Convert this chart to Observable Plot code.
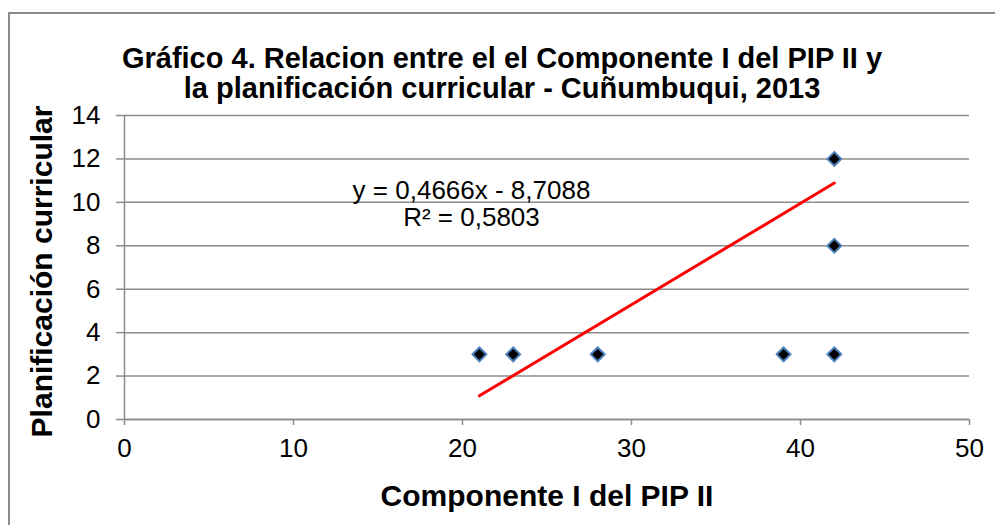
<!DOCTYPE html>
<html><head><meta charset="utf-8">
<script src="https://cdn.jsdelivr.net/npm/d3@7"></script>
<script src="https://cdn.jsdelivr.net/npm/@observablehq/plot@0.6"></script>
<style>
body{margin:0;background:#fff;font-family:Arial,"Liberation Sans",sans-serif;}
#wrap{position:relative;width:995px;height:525px;overflow:hidden;background:#fff;}
#frame{position:absolute;left:8px;top:12px;width:1020px;height:540px;border:2px solid #8a8a8a;box-sizing:border-box;}
#title{position:absolute;left:0;width:1004px;top:43px;text-align:center;font-weight:bold;font-size:29px;line-height:30px;color:#000;white-space:nowrap;}
#chart{position:absolute;left:0;top:100px;}
</style></head>
<body>
<div id="wrap">
  <div id="frame"></div>
  <div id="title">Gráfico 4. Relacion entre el el Componente I del PIP II y<br>la planificación curricular - Cuñumbuqui, 2013</div>
  <div id="chart"></div>
</div>
<script>
// data
const componenteX = [21, 23, 28, 39, 42, 42, 42];
const planificacionY = [3, 3, 3, 3, 3, 8, 12];
const xTicks = [0, 10, 20, 30, 40, 50];
const yTicks = [0, 2, 4, 6, 8, 10, 12, 14];
const trendSlope = 0.4666;
const trendIntercept = -8.7088;
const trendR2 = 0.5803;
const xLabel = "Componente I del PIP II";
const yLabel = "Planificación curricular";

const points = componenteX.map((x, i) => ({x, y: planificacionY[i]}));
const [xmin, xmax] = d3.extent(componenteX);
const trend = [xmin, xmax].map(x => ({x, y: trendSlope * x + trendIntercept}));
const fmt = v => String(v).replace(".", ",");
const eqText = `y = ${fmt(trendSlope)}x ${trendIntercept < 0 ? "-" : "+"} ${fmt(Math.abs(trendIntercept))}\nR² = ${fmt(trendR2)}`;

const grid = "#8c8c8c";
const chart = Plot.plot({
  width: 995,
  height: 425,
  marginTop: 15,
  marginBottom: 106,
  marginLeft: 124,
  marginRight: 26,
  style: {fontFamily: "Arial, 'Liberation Sans', sans-serif", background: "transparent", overflow: "visible"},
  x: {domain: [0, 50]},
  y: {domain: [0, 14]},
  marks: [
    Plot.gridY(yTicks, {stroke: grid, strokeOpacity: 1, strokeWidth: 1.5}),
    Plot.ruleX([0], {stroke: grid, strokeWidth: 1.5}),
    Plot.ruleY([0], {stroke: grid, strokeWidth: 1.5}),
    Plot.axisY(yTicks, {tickSize: 8, tickPadding: 16, fontSize: 26, stroke: grid, strokeWidth: 1.5, color: "#000", label: null}),
    Plot.axisX(xTicks, {tickSize: 6, tickPadding: 13, fontSize: 26, stroke: grid, strokeWidth: 1.5, color: "#000", label: null}),
    Plot.line(trend, {x: "x", y: "y", stroke: "#ff0000", strokeWidth: 3}),
    Plot.dot(points, {x: "x", y: "y", symbol: "diamond2", r: 6.2, fill: "#000", stroke: "#4a7ebb", strokeWidth: 2}),
    Plot.text([eqText], {frameAnchor: "top-left", dx: 347, dy: 88.5, text: d => d, fontSize: 26, lineHeight: 1.05, textAnchor: "middle", lineAnchor: "middle", fill: "#000"}),
    Plot.text([xLabel], {frameAnchor: "bottom", dy: 77, text: d => d, fontSize: 30, fontWeight: "bold", lineAnchor: "middle", fill: "#000"}),
    Plot.text([yLabel], {frameAnchor: "left", dx: -82, dy: 4, rotate: -90, text: d => d, fontSize: 30, fontWeight: "bold", lineAnchor: "middle", textAnchor: "middle", fill: "#000"})
  ]
});
document.getElementById("chart").appendChild(chart);
</script>
</body></html>
